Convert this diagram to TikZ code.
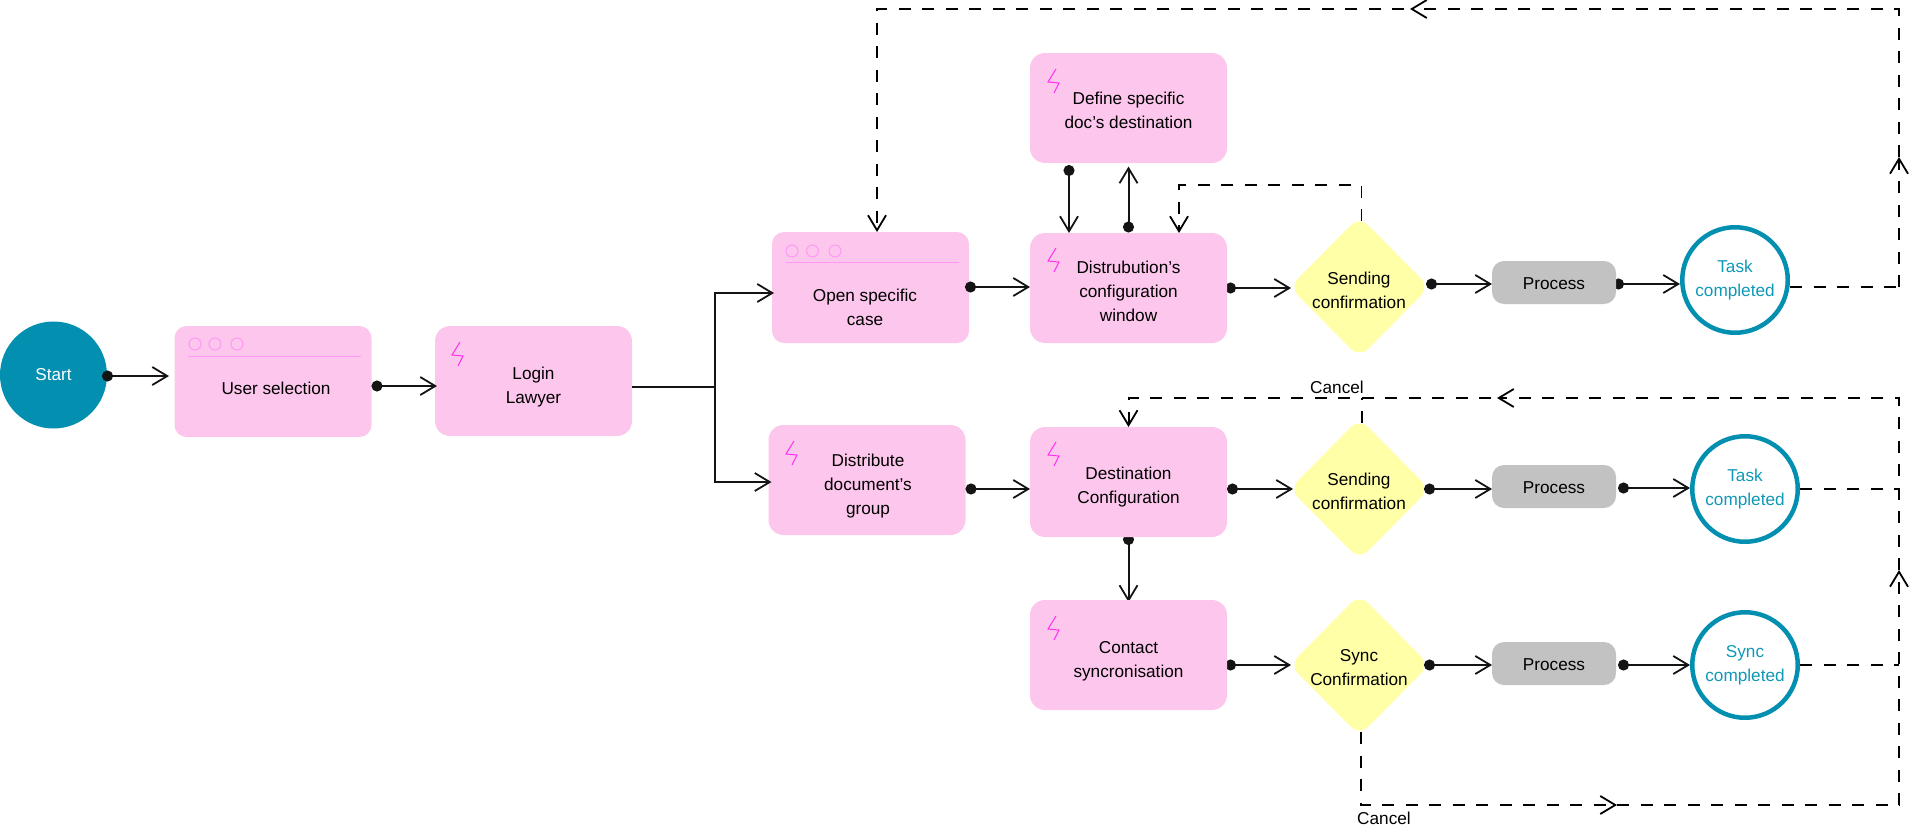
\documentclass[tikz,border=0pt]{standalone}
\usepackage{fontspec}
\setmainfont{Liberation Sans}
\usetikzlibrary{arrows.meta,shapes.geometric,backgrounds}
\definecolor{pinkfill}{HTML}{FDC6EC}
\definecolor{pinkline}{HTML}{FF99F5}
\definecolor{boltc}{HTML}{FF2FEF}
\definecolor{yellowfill}{HTML}{FFFFA8}
\definecolor{grayfill}{HTML}{C2C2C2}
\definecolor{teal}{HTML}{038FAF}
\definecolor{tealtext}{HTML}{1098B8}
\definecolor{ink}{HTML}{141414}
\tikzset{
  base/.style={font=\fontsize{17.2pt}{24pt}\selectfont,align=center,text=black},
  box/.style={draw=none,fill=pinkfill,rounded corners=15pt,minimum width=197pt,minimum height=110pt,inner sep=0pt,outer sep=0pt},
  winbox/.style={box,rounded corners=12pt},
  txt/.style={base,inner sep=0pt},
  dec/.style={base,draw=none,fill=yellowfill,diamond,aspect=1,rounded corners=12pt,minimum width=140pt,minimum height=141pt,inner sep=0pt,outer sep=0pt},
  proc/.style={base,fill=grayfill,rounded corners=12pt,minimum width=124pt,minimum height=43pt,inner sep=0pt,outer sep=0pt},
  startn/.style={base,circle,fill=teal,text=white,minimum size=107pt,inner sep=0pt,outer sep=0pt},
  endn/.style={base,circle,draw=teal,line width=4.5pt,text=tealtext,minimum size=105.5pt,inner sep=0pt},
  plainlabel/.style={base,inner sep=0pt},
  barb/.tip={Straight Barb[length=15pt,width=18pt,line width=1.8pt]},
  conn/.style={draw=ink,line width=2pt,{Circle[length=11pt,fill=ink]}-{barb}},
  line/.style={draw=ink,line width=2pt},
  arrowline/.style={line,-{barb}},
  dashthick/.style={draw=black,line width=2pt,dash pattern=on 12pt off 11.5pt,line join=miter},
  dashthin/.style={draw=black,line width=1.1pt,dash pattern=on 12pt off 11.5pt,line join=miter},
  winmark/.style={draw=pinkline,line width=1pt},
  boltline/.style={draw=boltc,line width=1pt,line join=miter},
}
\newcommand{\boltat}[2]{\draw[boltline] (#1+8,#2) -- (#1,#2+13) -- (#1+11,#2+14) -- (#1+6,#2+24);}
\newcommand{\proctext}{\raisebox{-1pt}[\height][\depth]{Process}}
\begin{document}
\begin{tikzpicture}[x=1pt,y=-1pt]
\useasboundingbox (0,0) rectangle (1909,830);
% nodes
\node[startn] (start) at (53.5,375) {Start};
\node[winbox,minimum height=111pt] (usr) at (273,381.5) {};
\node[txt] (usrt) at (276,388.5) {User selection};
\node[box] (login) at (533.5,381) {};
\node[txt] (logint) at (533.5,387) {Login\\Lawyer};
\node[winbox,minimum height=111pt] (open) at (870.5,287.5) {};
\node[txt] (opent) at (865,307) {Open specific\\case};
\node[box] (dist) at (1128.5,288) {};
\node[txt] (distt) at (1128.5,291) {Distrubution's\\configuration\\window};
\node[box] (define) at (1128.5,108) {};
\node[txt] (definet) at (1128.5,110) {Define specific\\doc's destination};
\node[box] (group) at (867,480) {};
\node[txt] (groupt) at (868,486) {Distribute\\document's\\group};
\node[box] (dest) at (1128.5,482) {};
\node[txt] (destt) at (1128.5,487) {Destination\\Configuration};
\node[box] (contact) at (1128.5,655) {};
\node[txt] (contactt) at (1128.5,661) {Contact\\syncronisation};
\node[dec] (d1) at (1359.5,287) {};
\node[txt] (d1t) at (1359,290) {Sending\\confirmation};
\node[dec] (d2) at (1359.5,489) {};
\node[txt] (d2t) at (1359,491) {Sending\\confirmation};
\node[dec] (d3) at (1359.5,665) {};
\node[txt] (d3t) at (1359,668) {Sync\\Confirmation};
\node[proc] (p1) at (1554,282.5) {\proctext};
\node[proc] (p2) at (1554,486.5) {\proctext};
\node[proc] (p3) at (1554,663.5) {\proctext};
\node[endn] (e1) at (1735,280) {Task\\completed};
\node[endn] (e2) at (1745,489) {Task\\completed};
\node[endn] (e3) at (1745,665) {Sync\\completed};
\node[plainlabel] (c1) at (1337,387) {Cancel};
\node[plainlabel] (c2) at (1384,818) {Cancel};
% window marks
\foreach \x in {195,215,237}{\draw[winmark] (\x,344) circle (6pt);}
\draw[winmark] (188,356) -- (361,356);
\foreach \x in {792,812.5,835}{\draw[winmark] (\x,251) circle (6pt);}
\draw[winmark] (786,262) -- (959,262);
% bolts
\boltat{452}{342}
\boltat{1048}{69}
\boltat{1048}{248}
\boltat{786}{441}
\boltat{1048}{442}
\boltat{1048}{616}
% connectors whose dot sits behind the box
\begin{scope}[on background layer]
\draw[conn] (dist.east |- 0,288) ++(-2,0) -- (1291,288);
\draw[conn] (contact.east |- 0,665) ++(-2,0) -- (1291,665);
\draw[conn] (p1.east |- 0,284) ++(-3,0) -- (e1.west |- 0,284);
\draw[conn] ([yshift=3pt]dest.south) -- ([yshift=-2pt]contact.north);
\end{scope}
% solid connectors
\coordinate (st) at (169,376);
\draw[conn] (102,376) -- (st);
\coordinate (lg) at (437,386);
\draw[conn] (usr.east |- lg) -- (lg);
\coordinate (fork) at (715,387);
\coordinate (fork1) at (715,293);
\coordinate (fork2) at (715,482);
\draw[line] (login.east |- fork) -- (fork);
\draw[arrowline,line join=miter] (fork) -- (fork1) -- ([xshift=2pt]open.west |- fork1);
\draw[arrowline,line join=miter] (fork) -- (fork2) -- ([xshift=3pt]group.west |- fork2);
\draw[conn] (965,287) -- (dist.west |- 0,287);
\draw[conn] (group.east |- 0,489) -- (dest.west |- 0,489);
\draw[conn] (dest.east |- 0,489) -- (1293,489);
\draw[conn] ([xshift=-59.5pt,yshift=-2pt]define.south) -- ([xshift=-59.5pt]dist.north);
\draw[conn] ([yshift=0.5pt]dist.north) -- ([yshift=-3.5pt]define.south);
\draw[conn] (1426,284) -- (p1.west |- 0,284);
\draw[conn] (1424,489) -- (p2.west |- 0,489);
\draw[conn] (1424,665) -- (p3.west |- 0,665);
\draw[conn] (1618,488) -- (e2.west |- 0,488);
\draw[conn] (1618,665) -- (e3.west |- 0,665);
% dashed connectors
\coordinate (cr1) at (1899,287);
\coordinate (a1) at (1899,157);
\coordinate (cr2) at (1899,9);
\coordinate (a2) at (1410,9);
\coordinate (cr3) at (877,9);
\draw[dashthin] (e1.east |- cr1) -- (cr1);
\draw[dashthick,-{barb}] (cr1) -- (a1);
\draw[dashthick,-{barb}] (a1) -- (cr2) -- (a2);
\draw[dashthick,dash phase=17.5pt,-{barb}] (a2) -- (cr3) -- (cr3 |- open.north);
\coordinate (df1) at (1361.5,185);
\coordinate (df2) at (1179,185);
\draw[dashthin,-{barb}] (1361.5,221) -- (df1) -- (df2) -- (df2 |- dist.north);
\coordinate (rv) at (1899,398);
\coordinate (lo1) at (1361,805);
\coordinate (a3) at (1617,805);
\coordinate (lo2) at (1899,805);
\coordinate (a4) at (1899,570);
\coordinate (a5) at (1497,398);
\coordinate (dt) at (1128.5,398);
\draw[dashthick,-{barb}] (1361,732) -- (lo1) -- (a3);
\draw[dashthick,-{barb}] (a3) -- (lo2) -- (a4);
\draw[dashthick,-{barb}] (a4) -- (rv) -- (a5);
\draw[dashthick,dash phase=17.5pt,-{barb}] (a5) -- (dt) -- (dest.north);
\draw[dashthick] (1361.5,423) -- (1361.5,398);
\draw[dashthick] (e2.east |- 0,489) -- (1899,489);
\draw[dashthick] (e3.east |- 0,665) -- (1899,665);
\end{tikzpicture}
\end{document}
